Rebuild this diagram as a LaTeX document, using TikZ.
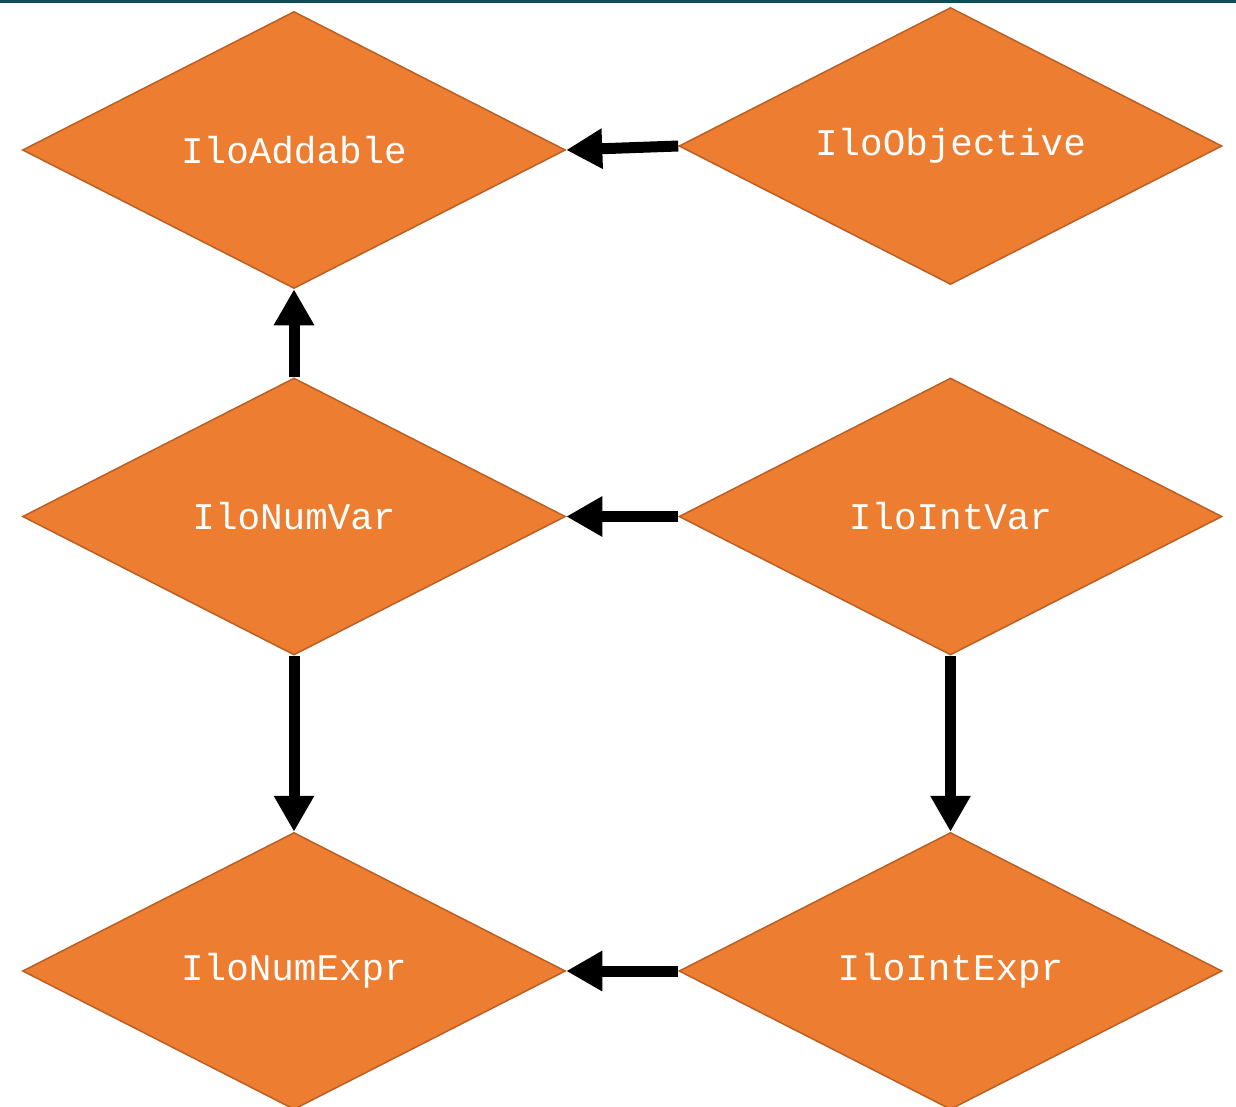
\documentclass[tikz,border=0pt]{standalone}
\usepackage{fontspec}
\setmonofont{Liberation Mono}
\usepackage{tikz}
\usetikzlibrary{positioning}
\usetikzlibrary{shapes.geometric}
\usetikzlibrary{arrows.meta}

\definecolor{ilofill}{RGB}{237,125,49}
\definecolor{iloedge}{RGB}{186,96,36}
\definecolor{topbar}{RGB}{12,78,84}

\begin{document}
\begin{tikzpicture}[
                          diamondnode/.style={diamond, aspect=2, draw=iloedge, line width=1.5pt, fill=ilofill, text=white,
                            minimum width=543pt, minimum height=277pt, inner sep=0pt,
                            font=\ttfamily\fontsize{37.6}{40}\selectfont},
                          arrowline/.style={line width=11pt, -{Triangle[length=36pt,width=38pt]}},
                      ]
                      \useasboundingbox (0,0) rectangle (1236pt,-1106pt);
                      \fill[topbar] (0,0) rectangle (1236pt,-2.5pt);

                      %Nodes
                      \node[diamondnode]    (addable)    at (294pt,-150pt)                      {IloAddable};
                      \node[diamondnode]    (objective)  [right=112pt of addable, yshift=4pt]    {IloObjective};
                      \node[diamondnode]    (numvar)     [below=88pt of addable]                {IloNumVar};
                      \node[diamondnode]    (intvar)     [right=112pt of numvar]                {IloIntVar};
                      \node[diamondnode]    (numexpr)    [below=176pt of numvar]                {IloNumExpr};
                      \node[diamondnode]    (intexpr)    [right=112pt of numexpr]               {IloIntExpr};

                      %Lines
                      \draw[arrowline] (objective.west) -- (addable.east);
                      \draw[arrowline] (numvar.north) -- (addable.south);
                      \draw[arrowline] (intvar.west) -- (numvar.east);
                      \draw[arrowline] (numvar.south) -- (numexpr.north);
                      \draw[arrowline] (intvar.south) -- (intexpr.north);
                      \draw[arrowline] (intexpr.west) -- (numexpr.east);
                  \end{tikzpicture}
\end{document}
